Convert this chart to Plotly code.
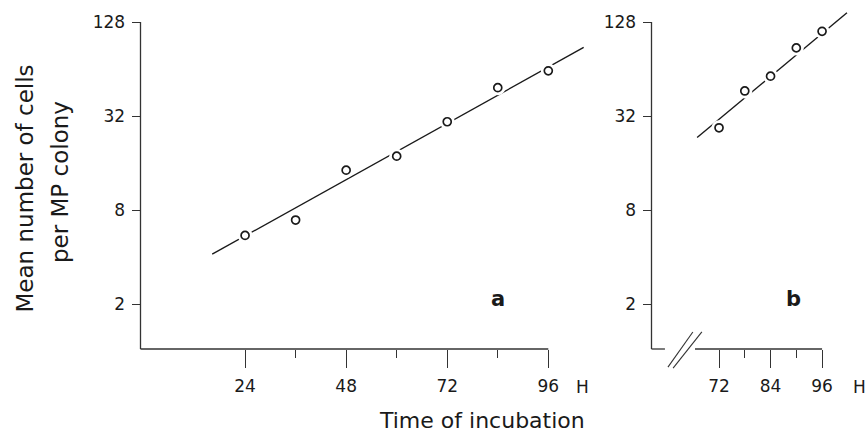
import math
import plotly.graph_objects as go

# ---------------- data ----------------
# Panel a
time_a = [24, 36, 48, 60, 72, 84, 96]
cells_a = [5.5, 6.9, 14.4, 17.7, 29.4, 48.6, 62.3]
fit_time_a = [16.2, 104.4]
fit_cells_a = [4.17, 88.0]

# Panel b
time_b = [72, 78, 84, 90, 96]
cells_b = [26.9, 46.3, 57.6, 87.4, 111.6]
fit_time_b = [66.9, 101.8]
fit_cells_b = [23.3, 146.6]

# ticks
y_tickvals = [2, 8, 32, 128]
y_ticktext = ["2", "8", "32", "128"]
x_major_a = [24, 48, 72, 96]
x_minor_a = [36, 60, 84]
x_major_b = [72, 84, 96]
x_minor_b = [78, 90]

# ---------------- layout constants ----------------
W, H = 868, 435
FONT = "DejaVu Sans"
INK = "#1a1a1a"
AX = "#333333"

xa_domain = [140.5 / W, 590 / W]
xb_domain = [651.5 / W, 862 / W]
y_domain = [1 - 349 / H, 1 - 8 / H]
xa_range = [-0.83, 105.9]
xb_range = [56.27, 105.3]
y_range = [0.0129, 2.197]  # log10
x_axis_end = 96
y_axis_top = 128
break_left_end, break_right_start = 59.4, 66.4


def fx(v, r):
    return (v - r[0]) / (r[1] - r[0])


def fy(v):
    return (math.log10(v) - y_range[0]) / (y_range[1] - y_range[0])


fig = go.Figure()


def add_panel(tx, cy, ftx, fcy, xa, ya):
    fig.add_trace(go.Scatter(x=ftx, y=fcy, mode="lines", xaxis=xa, yaxis=ya,
                             line=dict(color=INK, width=1.4), hoverinfo="skip",
                             showlegend=False))
    # white halo to break the line around the points
    fig.add_trace(go.Scatter(x=tx, y=cy, mode="markers", xaxis=xa, yaxis=ya,
                             marker=dict(size=15, color="white",
                                         line=dict(width=0)),
                             hoverinfo="skip", showlegend=False))
    fig.add_trace(go.Scatter(x=tx, y=cy, mode="markers", xaxis=xa, yaxis=ya,
                             marker=dict(size=8, color="white", symbol="circle",
                                         line=dict(color=INK, width=1.7)),
                             showlegend=False))


add_panel(time_a, cells_a, fit_time_a, fit_cells_a, "x", "y")
add_panel(time_b, cells_b, fit_time_b, fit_cells_b, "x2", "y2")

tickfont = dict(family=FONT, size=17, color=INK)
xcommon = dict(showgrid=False, zeroline=False, showline=False, ticks="outside",
               ticklen=18, tickwidth=1.2, tickcolor=AX, tickfont=tickfont,
               tickmode="array", automargin=False, fixedrange=True,
               ticklabelstandoff=4)
ycommon = dict(type="log", range=y_range, domain=y_domain, showgrid=False,
               zeroline=False, showline=False, ticks="outside", ticklen=8,
               tickwidth=1.2, tickcolor=AX, tickfont=tickfont,
               tickmode="array", tickvals=y_tickvals, ticktext=y_ticktext,
               ticklabelstandoff=3, automargin=False, fixedrange=True)

fig.update_layout(
    width=W, height=H,
    margin=dict(l=0, r=0, t=0, b=0),
    paper_bgcolor="white", plot_bgcolor="white",
    showlegend=False,
    xaxis=dict(domain=xa_domain, range=xa_range, anchor="y",
               tickvals=x_major_a, ticktext=[str(v) for v in x_major_a],
               minor=dict(tickmode="array", tickvals=x_minor_a, ticks="outside",
                          ticklen=8, tickwidth=1.2, tickcolor=AX, showgrid=False),
               **xcommon),
    xaxis2=dict(domain=xb_domain, range=xb_range, anchor="y2",
                tickvals=x_major_b, ticktext=[str(v) for v in x_major_b],
                minor=dict(tickmode="array", tickvals=x_minor_b, ticks="outside",
                           ticklen=8, tickwidth=1.2, tickcolor=AX, showgrid=False),
                **xcommon),
    yaxis=dict(anchor="x", **ycommon),
    yaxis2=dict(anchor="x2", **ycommon),
)

line_style = dict(color=AX, width=1.3)
shapes = [
    # panel a axes
    dict(type="line", xref="x domain", yref="y domain", x0=0, x1=0,
         y0=0, y1=fy(y_axis_top), line=line_style),
    dict(type="line", xref="x domain", yref="y domain", x0=0,
         x1=fx(x_axis_end, xa_range), y0=0, y1=0, line=line_style),
    # panel b axes
    dict(type="line", xref="x2 domain", yref="y2 domain", x0=0, x1=0,
         y0=0, y1=fy(y_axis_top), line=line_style),
    dict(type="line", xref="x2 domain", yref="y2 domain", x0=0,
         x1=fx(break_left_end, xb_range), y0=0, y1=0, line=line_style),
    dict(type="line", xref="x2 domain", yref="y2 domain",
         x0=fx(break_right_start, xb_range), x1=fx(x_axis_end, xb_range),
         y0=0, y1=0, line=line_style),
    # axis-break marks
    dict(type="line", xref="x2 domain", yref="y2 domain",
         x0=fx(60.1, xb_range), x1=fx(65.9, xb_range), y0=-0.053, y1=0.050,
         line=dict(color=AX, width=1.1)),
    dict(type="line", xref="x2 domain", yref="y2 domain",
         x0=fx(61.3, xb_range), x1=fx(68.0, xb_range), y0=-0.056, y1=0.050,
         line=dict(color=AX, width=1.1)),
]
fig.update_layout(shapes=shapes)

ann = [
    dict(text="a", x=498 / W, y=1 - 299 / H, font=dict(family=FONT, size=21, color=INK, weight="bold")),
    dict(text="b", x=793 / W, y=1 - 299 / H, font=dict(family=FONT, size=21, color=INK, weight="bold")),
    dict(text="H", x=582 / W, y=1 - 387 / H, font=tickfont),
    dict(text="H", x=859 / W, y=1 - 387 / H, font=tickfont),
    dict(text="Time of incubation", x=481.5 / W, y=1 - 420 / H,
         font=dict(family=FONT, size=22, color=INK)),
    dict(text="Mean number of cells", x=24 / W, y=1 - 188.5 / H, textangle=-90,
         font=dict(family=FONT, size=23, color=INK)),
    dict(text="per MP colony", x=60 / W, y=1 - 182 / H, textangle=-90,
         font=dict(family=FONT, size=23, color=INK)),
]
for a in ann:
    fig.add_annotation(xref="paper", yref="paper", showarrow=False,
                       xanchor="center", yanchor="middle", **a)

fig.write_html("out.html", config={"displayModeBar": False})
